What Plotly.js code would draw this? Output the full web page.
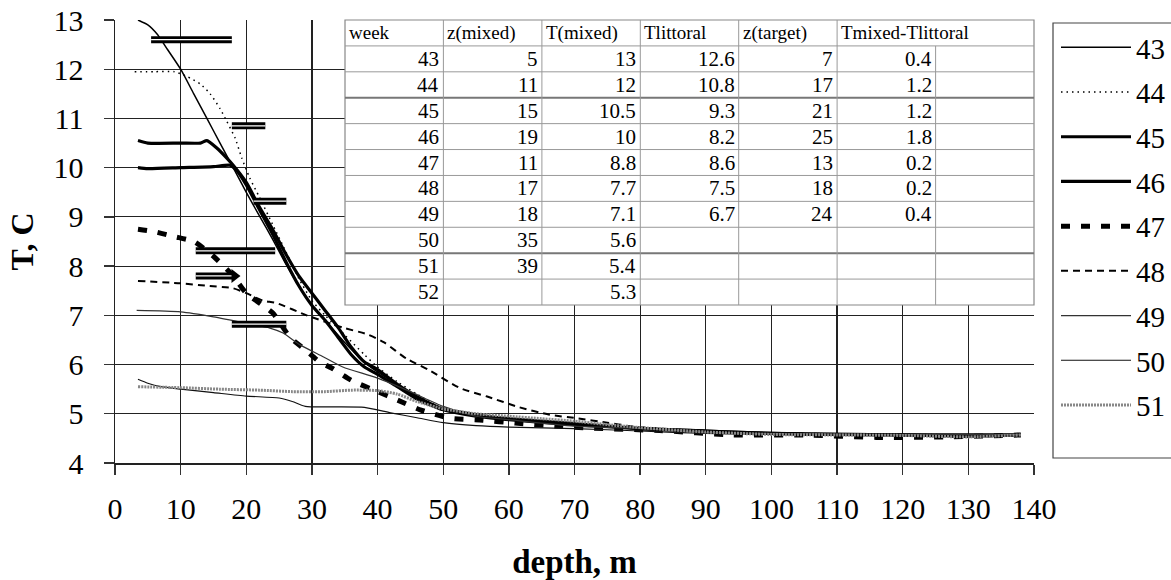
<!DOCTYPE html>
<html><head><meta charset="utf-8">
<script src="https://cdn.plot.ly/plotly-3.0.1.min.js"></script>
<style>body{margin:0;background:#fff}#chart{width:1171px;height:580px}</style>
</head><body><div id="chart"></div>
<script>
// ---- profile data (depth m, temperature C) ----
const weeks = ['43','44','45','46','47','48','49','50','51'];
const depth43 = [3.5,5,6.5,8,10,12,14,16,18,20,22,24,26,28,30,32,35,38,40,43,46,50,55,60,70,80,90,100,120,138];
const temp43  = [13,12.9,12.7,12.4,12,11.5,11,10.5,10,9.5,9.02,8.55,8.05,7.6,7.2,6.9,6.45,6.05,5.85,5.6,5.35,5.1,4.97,4.9,4.8,4.7,4.65,4.6,4.58,4.57];
const depth44 = [3,6,9,11,13,14.5,16,17,18.3,19.3,20.5,22,24,26,28,30,32,35,38,40,43,46,50,55,60,70,80,90,100,120,138];
const temp44  = [11.95,11.95,11.95,11.85,11.7,11.5,11.2,10.95,10.6,10.2,9.8,9.4,8.85,8.3,7.75,7.3,7.0,6.6,6.2,5.95,5.65,5.4,5.1,4.98,4.9,4.8,4.7,4.65,4.6,4.58,4.57];
const depth45 = [3.5,5,10,13,14,15.5,17,18,20,22,24,26,28,30,32,34,36,38,40,43,46,50,55,60,65,70,80,90,100,110,120,130,138];
const temp45  = [10.55,10.5,10.5,10.5,10.55,10.4,10.2,10.05,9.7,9.2,8.75,8.25,7.8,7.45,7.1,6.75,6.35,6.05,5.9,5.6,5.35,5.1,4.98,4.9,4.85,4.8,4.7,4.65,4.6,4.58,4.57,4.55,4.57];
const depth46 = [3.5,5,10,15,17.5,18.5,20,22,24,26,28,30,32,34,36,38,40,43,46,50,55,60,70,80,90,100,120,138];
const temp46  = [10.0,9.98,10.0,10.02,10.05,9.95,9.65,9.15,8.65,8.1,7.6,7.2,6.9,6.55,6.2,5.95,5.8,5.55,5.3,5.08,4.95,4.88,4.78,4.7,4.65,4.6,4.57,4.57];
const depth47 = [3.5,6,9,12,15,18,20,24,26.7,29,31.2,33,36,40,43,46.5,51,56,61,67,72,83,94,105,116,127,138];
const temp47  = [8.75,8.7,8.6,8.5,8.2,7.8,7.45,7.05,6.55,6.3,6.05,5.93,5.68,5.45,5.28,5.08,4.91,4.87,4.81,4.75,4.71,4.66,4.57,4.57,4.52,4.53,4.57];
const depth48 = [3.5,10,14,18,20,22.5,24.6,29.2,34.7,38.3,41,44.4,47.8,52.6,56.7,61.4,66.2,70.3,75,78.4,81.8,90,100,110,120,130,138];
const temp48  = [7.7,7.65,7.6,7.55,7.45,7.3,7.25,7.0,6.75,6.62,6.45,6.12,5.89,5.52,5.35,5.14,4.98,4.91,4.82,4.75,4.71,4.65,4.6,4.58,4.56,4.53,4.57];
const depth49 = [3.3,10,15,20,23.6,25.6,28.2,31.7,34.7,39.9,45,50,55,60,70,80,90,100,120,138];
const temp49  = [7.1,7.07,6.97,6.84,6.74,6.64,6.4,6.16,5.95,5.73,5.45,5.15,4.95,4.88,4.75,4.7,4.62,4.6,4.58,4.58];
const depth50 = [3.5,5,7,10,15,20,25,27,29,33,38,42,46,50,55,60,70,80,90,100,110,120,130,138];
const temp50  = [5.7,5.62,5.55,5.5,5.43,5.36,5.32,5.25,5.15,5.14,5.13,5.02,4.92,4.82,4.76,4.73,4.7,4.65,4.6,4.58,4.57,4.56,4.53,4.55];
const depth51 = [3.5,10,16,22,27,32,36,40,43,46,50,55,60,65,70,75,80,90,100,110,120,130,138];
const temp51  = [5.55,5.53,5.5,5.48,5.45,5.45,5.48,5.47,5.4,5.25,5.1,5.0,4.95,4.9,4.85,4.78,4.72,4.63,4.58,4.57,4.56,4.53,4.57];

// ---- littoral marker bars ----
const barT  = [12.6, 10.85, 9.32, 8.31, 7.8, 6.82];
const barX0 = [5.5, 17.8, 21.1, 12.3, 12.3, 17.8];
const barX1 = [17.8, 22.9, 26.1, 24.4, 18.2, 26.1];

// ---- table ----
const tableHeader   = ['week','z(mixed)','T(mixed)','Tlittoral','z(target)','Tmixed-Tlittoral'];
const tableWeek     = ['43','44','45','46','47','48','49','50','51','52'];
const tableZMixed   = ['5','11','15','19','11','17','18','35','39',''];
const tableTMixed   = ['13','12','10.5','10','8.8','7.7','7.1','5.6','5.4','5.3'];
const tableTLitt    = ['12.6','10.8','9.3','8.2','8.6','7.5','6.7','','',''];
const tableZTarget  = ['7','17','21','25','13','18','24','','',''];
const tableDiff     = ['0.4','1.2','1.2','1.8','0.2','0.2','0.4','','',''];

const depths = [depth43,depth44,depth45,depth46,depth47,depth48,depth49,depth50,depth51];
const temps  = [temp43,temp44,temp45,temp46,temp47,temp48,temp49,temp50,temp51];
const styles = [
  {color:'#000', width:1.5},
  {color:'#000', width:1.5, dash:'1.5px,4px'},
  {color:'#000', width:3.2},
  {color:'#000', width:3.2},
  {color:'#000', width:5, dash:'9px,11px'},
  {color:'#000', width:2, dash:'7px,5px'},
  {color:'#333', width:1.2},
  {color:'#111', width:1.2},
  {color:'#888', width:3, dash:'2px,1px'}
];

const traces = [];
weeks.forEach((w,i)=>{
  traces.push({x:depths[i], y:temps[i], name:w, type:'scatter', mode:'lines',
    line:Object.assign({shape:'spline', smoothing:0.6}, styles[i]), legendgroup:w});
});
barT.forEach((t,i)=>{
  traces.push({x:[barX0[i],barX1[i]], y:[t,t], type:'scatter', mode:'lines', showlegend:false,
    line:{color:'#000', width:7}, hoverinfo:'skip'});
  traces.push({x:[barX0[i],barX1[i]], y:[t,t], type:'scatter', mode:'lines', showlegend:false,
    line:{color:'#fff', width:1.3}, hoverinfo:'skip'});
});
// arrow head on the 7.8 bar
traces.push({x:[barX1[4]], y:[barT[4]], type:'scatter', mode:'markers', showlegend:false, hoverinfo:'skip',
  marker:{symbol:'triangle-right', size:12, color:'#000'}});

// ---- geometry (px) ----
const L=115, R=1034, TOP=20, BOT=463;
const px = v => (v-L)/(R-L);
const py = v => (BOT-v)/(BOT-TOP);

const shapes = [];
const annotations = [];
// table
const colEdges = [345, 443.4, 541.9, 640.3, 738.7, 837.1, 935.6, 1034];
const tTop = 20, tBot = 305, nRows = 11, rowH = (tBot-tTop)/nRows;
shapes.push({type:'rect', xref:'paper', yref:'paper', x0:px(colEdges[0]), x1:px(colEdges[7]), y0:py(tBot), y1:py(tTop),
  fillcolor:'#fff', line:{color:'#888', width:1.2}, layer:'above'});
for(let r=1;r<nRows;r++){
  const y = tTop + r*rowH;
  const thick = (r===3 || r===9);
  shapes.push({type:'line', xref:'paper', yref:'paper', x0:px(colEdges[0]), x1:px(colEdges[7]), y0:py(y), y1:py(y),
    line:{color:thick?'#777':'#999', width:thick?2:1}, layer:'above'});
}
for(let c=1;c<7;c++){
  const yStart = (c===6) ? tTop+rowH : tTop;
  shapes.push({type:'line', xref:'paper', yref:'paper', x0:px(colEdges[c]), x1:px(colEdges[c]), y0:py(yStart), y1:py(tBot),
    line:{color:'#999', width:1}, layer:'above'});
}
tableHeader.forEach((h,c)=>{
  annotations.push({xref:'paper', yref:'paper', x:px(colEdges[c]+2), y:py(tTop+rowH/2), text:h, showarrow:false,
    xanchor:'left', yanchor:'middle', font:{family:'Liberation Serif', size:19, color:'#000'}});
});
const cols = [tableWeek, tableZMixed, tableTMixed, tableTLitt, tableZTarget, tableDiff];
cols.forEach((col,c)=>{
  col.forEach((v,r)=>{
    if(v==='') return;
    annotations.push({xref:'paper', yref:'paper', x:px(colEdges[c+1]-2), y:py(tTop+(r+1.5)*rowH), text:v, showarrow:false,
      xanchor:'right', yanchor:'middle', font:{family:'Liberation Serif', size:21, color:'#000'}});
  });
});
// legend frame
shapes.push({type:'rect', xref:'paper', yref:'paper', x0:px(1053), x1:px(1180), y0:py(458), y1:py(23),
  line:{color:'#444', width:1.2}, fillcolor:'rgba(0,0,0,0)'});

const tickFont = {family:'Liberation Serif', size:30, color:'#000'};
const layout = {
  width:1171, height:580,
  margin:{l:L, r:1171-R, t:TOP, b:580-BOT, autoexpand:false},
  paper_bgcolor:'#fff', plot_bgcolor:'#fff',
  showlegend:true,
  legend:{x:px(1056), y:py(22), xanchor:'left', yanchor:'top', bgcolor:'rgba(0,0,0,0)', borderwidth:0,
    font:{family:'Liberation Serif', size:29, color:'#000'}, itemwidth:70, tracegroupgap:4, traceorder:'grouped'},
  xaxis:{range:[0,140], dtick:10, tick0:0, ticks:'outside', ticklen:10, tickcolor:'#333', tickwidth:1.3,
    showgrid:true, gridcolor:'#222', gridwidth:1.2, showline:true, linecolor:'#222', linewidth:1.5, zeroline:false,
    tickfont:tickFont, ticklabelstandoff:8,
    title:{text:'depth, m', font:{family:'Liberation Serif', size:33, color:'#000', weight:'bold'}, standoff:26}},
  yaxis:{range:[4,13], dtick:1, tick0:4, ticks:'outside', ticklen:10, tickcolor:'#333', tickwidth:1.3,
    showgrid:true, gridcolor:'#222', gridwidth:1.2, showline:true, linecolor:'#222', linewidth:1.5, zeroline:false,
    tickfont:tickFont, ticklabelstandoff:14,
    title:{text:'T, C', font:{family:'Liberation Serif', size:32, color:'#000', weight:'bold'}, standoff:10}},
  shapes:shapes, annotations:annotations
};
Plotly.newPlot('chart', traces, layout, {displayModeBar:false, staticPlot:true});
</script></body></html>
